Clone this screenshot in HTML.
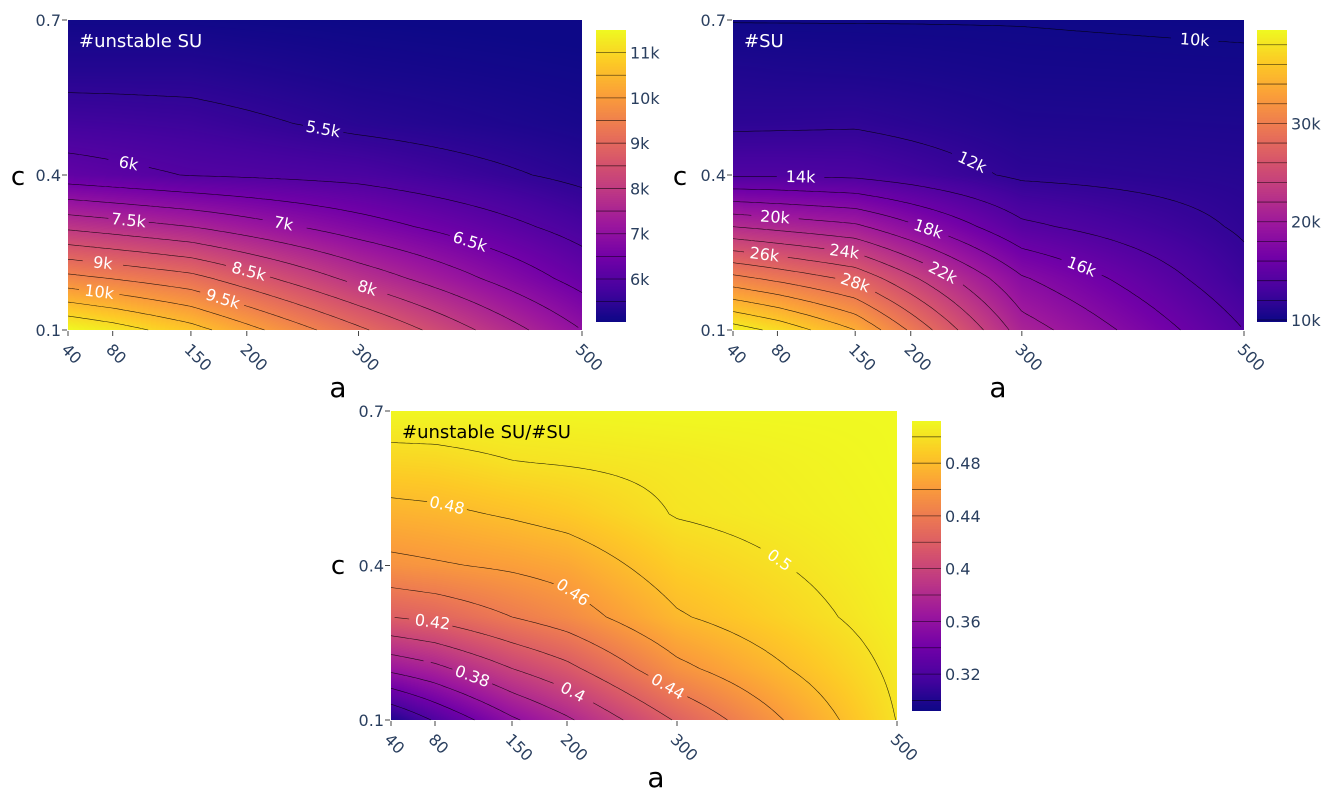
<!DOCTYPE html>
<html><head><meta charset="utf-8"><style>
body{margin:0;background:#fff;width:1338px;height:801px;overflow:hidden;position:relative;font-family:"DejaVu Sans","Liberation Sans",sans-serif}
canvas{position:absolute}
svg{position:absolute;left:0;top:0;font-family:"DejaVu Sans","Liberation Sans",sans-serif}
</style></head><body>
<svg id="ov" width="1338" height="801"></svg>
<script>
// ---- data ----
const A_VALS=[40,80,150,200,300,500];
const C_VALS=[0.1,0.2,0.3,0.4,0.5,0.6,0.7];
const Z_UNSTABLE=[
[11.5,11.25,10.7,10.17,9.1,7.0],
[9.65,9.48,9.17,8.72,7.83,6.31],
[7.89,7.75,7.5,7.24,6.73,5.81],
[6.21,6.12,5.98,5.94,5.85,5.4],
[5.72,5.7,5.65,5.57,5.4,5.2],
[5.35,5.35,5.35,5.3,5.2,5.1],
[5.1,5.1,5.1,5.08,5.05,5.0]];
const Z_SU=[
[39,37.5,34,29.7,21,14],
[30.6,29.5,27.5,24.4,18.2,12.55],
[22,21.4,20.4,18.4,14.4,11.77],
[13.8,13.8,13.6,13.0,11.7,11.27],
[11.66,11.7,11.8,11.5,10.9,10.76],
[10.9,10.8,10.7,10.6,10.35,10.25],
[9.95,9.95,9.95,9.95,9.95,9.8]];
const Z_RATIO=[
[0.30,0.322,0.357,0.377,0.422,0.5005],
[0.365,0.375,0.40,0.415,0.455,0.504],
[0.42,0.425,0.44,0.45,0.478,0.508],
[0.455,0.458,0.463,0.468,0.49,0.51],
[0.474,0.476,0.482,0.487,0.501,0.511],
[0.493,0.494,0.4995,0.501,0.504,0.512],
[0.511,0.511,0.511,0.511,0.512,0.512]];
const X_TICKS=[40,80,150,200,300,500];
const Y_TICKS=[0.1,0.4,0.7];
const CB1_TICKS=[6,7,8,9,10,11];
const CB2_TICKS=[10,20,30];
const CB3_TICKS=[0.32,0.36,0.40,0.44,0.48];

const PLASMA=[[13,8,135],[70,3,159],[114,1,168],[156,23,158],[189,55,134],[216,87,107],[237,121,83],[251,159,58],[253,202,38],[240,249,33]];
function plasma(t){t=Math.max(0,Math.min(1,t));const p=t*9,i=Math.min(8,Math.floor(p)),f=p-i;const a=PLASMA[i],b=PLASMA[i+1];return [a[0]+(b[0]-a[0])*f,a[1]+(b[1]-a[1])*f,a[2]+(b[2]-a[2])*f];}
function idx(arr,v){for(let i=0;i<arr.length-2;i++){if(v<=arr[i+1])return i;}return arr.length-2;}
function interp(Z,a,c){const i=idx(A_VALS,a),j=idx(C_VALS,c);
 const tx=(a-A_VALS[i])/(A_VALS[i+1]-A_VALS[i]),ty=(c-C_VALS[j])/(C_VALS[j+1]-C_VALS[j]);
 return Z[j][i]*(1-tx)*(1-ty)+Z[j][i+1]*tx*(1-ty)+Z[j+1][i]*(1-tx)*ty+Z[j+1][i+1]*tx*ty;}
const NS='http://www.w3.org/2000/svg';
const ov=document.getElementById('ov');
function sv(tag,attrs,parent){const e=document.createElementNS(NS,tag);for(const k in attrs)e.setAttribute(k,attrs[k]);(parent||ov).appendChild(e);return e;}

function makeChart(cfg){
 const {x0,x1,y0,y1,Z,zmin,zmax,levels,labels,fmt,labelFrac,cb,cbTicks,cbFmt,title,titleColor,cx,cy,ax,ay}=cfg;
 const w=x1-x0,h=y1-y0;
 const X=a=>x0+(a-40)/460*w, Y=c=>y1-(c-0.1)/0.6*h;
 const A=px=>40+(px-x0)/w*460, Cc=py=>0.1+(y1-py)/h*0.6;
 const cv=document.createElement('canvas');cv.width=w;cv.height=h;cv.style.left=x0+'px';cv.style.top=y0+'px';
 
 
 document.body.insertBefore(cv,ov);
 const ctx=cv.getContext('2d');const im=ctx.createImageData(w,h);
 for(let py=0;py<h;py++)for(let px=0;px<w;px++){const v=interp(Z,A(x0+px+0.5),Cc(y0+py+0.5));const col=plasma((v-zmin)/(zmax-zmin));const k=(py*w+px)*4;im.data[k]=col[0];im.data[k+1]=col[1];im.data[k+2]=col[2];im.data[k+3]=255;}
 ctx.putImageData(im,0,0);
 const g=sv('g',{});
 
 
 const nx=140,ny=90;const gv=[];
 for(let j=0;j<=ny;j++){gv.push([]);for(let i=0;i<=nx;i++){gv[j].push(interp(Z,A(x0+i*w/nx),Cc(y0+j*h/ny)));}}
 levels.forEach((L,li)=>{
  const segs=[];
  for(let j=0;j<ny;j++)for(let i=0;i<nx;i++){
   const c=[[i,j],[i+1,j],[i+1,j+1],[i,j+1]];const pts=[];
   for(let e=0;e<4;e++){const p=c[e],q=c[(e+1)%4];const vp=gv[p[1]][p[0]],vq=gv[q[1]][q[0]];
    if((vp-L)*(vq-L)<0){const t=(L-vp)/(vq-vp);pts.push([x0+(p[0]+(q[0]-p[0])*t)*w/nx,y0+(p[1]+(q[1]-p[1])*t)*h/ny]);}}
   if(pts.length>=2)segs.push([pts[0],pts[1]]);if(pts.length===4)segs.push([pts[2],pts[3]]);
  }
  let lab=null;
  if(labels.includes(L)&&segs.length){
   const tx=x0+labelFrac[labels.indexOf(L)]*w;let best=null,bd=1e9;
   segs.forEach(s=>{const mx=(s[0][0]+s[1][0])/2,my=(s[0][1]+s[1][1])/2;if(my<y0+10||my>y1-10||mx<x0+22||mx>x1-22)return;const d=Math.abs(mx-tx);if(d<bd){bd=d;best=s;}});
   if(best){let ang=Math.atan2(best[1][1]-best[0][1],best[1][0]-best[0][0])*180/Math.PI;if(ang>90)ang-=180;if(ang<-90)ang+=180;lab={x:(best[0][0]+best[1][0])/2,y:(best[0][1]+best[1][1])/2,ang};}
  }
  let d='';
  segs.forEach(s=>{const mx=(s[0][0]+s[1][0])/2,my=(s[0][1]+s[1][1])/2;if(lab&&Math.hypot(mx-lab.x,my-lab.y)<22)return;d+=`M${s[0][0].toFixed(1)},${s[0][1].toFixed(1)}L${s[1][0].toFixed(1)},${s[1][1].toFixed(1)}`;});
  const p=sv('path',{d,stroke:'#000','stroke-width':0.6,fill:'none','stroke-opacity':0.8},g);
  
  
  if(lab){const t=sv('text',{x:lab.x,y:lab.y,'text-anchor':'middle','dominant-baseline':'central',transform:`rotate(${lab.ang.toFixed(1)} ${lab.x} ${lab.y})`,fill:'#fff','font-size':16},g);t.textContent=fmt(L);
   
   }
 });
 const tt=sv('text',{x:x0+11,y:y0+27,fill:titleColor,'font-size':18});tt.textContent=title;
 
 
 Y_TICKS.forEach(v=>{const yy=Y(v);sv('line',{x1:x0-6,x2:x0-1,y1:yy,y2:yy,stroke:'#444','stroke-width':1});
  const t=sv('text',{x:x0-7,y:yy+6,'text-anchor':'end',fill:'#2a3f5f','font-size':16});t.textContent=String(v);
  
  });
 X_TICKS.forEach(v=>{const xx=X(v);sv('line',{x1:xx,x2:xx,y1:y1+1,y2:y1+6,stroke:'#444','stroke-width':1});
  const t=sv('text',{x:xx-4,y:y1+22,fill:'#2a3f5f','font-size':16,transform:`rotate(45 ${xx-4} ${y1+17})`});t.textContent=String(v);
  
  });
 const yt=sv('text',{x:cx,y:cy,'font-size':26,fill:'#000','text-anchor':'middle'});yt.textContent='c';
 
 
 const xt=sv('text',{x:ax,y:ay,'font-size':28,fill:'#000','text-anchor':'middle'});xt.textContent='a';
 
 
 const cc=document.createElement('canvas');const cw=cb.x1-cb.x0,ch=cb.y1-cb.y0;cc.width=cw;cc.height=ch;cc.style.left=cb.x0+'px';cc.style.top=cb.y0+'px';
 
 
 document.body.insertBefore(cc,ov);
 const c2=cc.getContext('2d');for(let py=0;py<ch;py++){const col=plasma(1-py/ch);c2.fillStyle=`rgb(${col[0]|0},${col[1]|0},${col[2]|0})`;c2.fillRect(0,py,cw,1);}
 const CY=v=>cb.y1-(v-zmin)/(zmax-zmin)*ch;
 levels.forEach(L=>{const yy=CY(L);if(yy>cb.y0&&yy<cb.y1)sv('line',{x1:cb.x0,x2:cb.x1,y1:yy,y2:yy,stroke:'#000','stroke-width':0.8,'stroke-opacity':0.6});});
 cbTicks.forEach(v=>{const t=sv('text',{x:cb.x1+4,y:CY(v)+6,fill:'#2a3f5f','font-size':16});t.textContent=cbFmt(v);
  
  });
}
const rng=(a,b,s)=>{const r=[];for(let v=a;v<=b+1e-9;v+=s)r.push(Math.round(v*1000)/1000);return r;};
makeChart({name:'unstable-su',x0:68,x1:582,y0:20,y1:330,Z:Z_UNSTABLE,zmin:5.05,zmax:11.5,levels:rng(5.5,11,0.5),
 labels:[5.5,6,6.5,7,7.5,8,8.5,9,9.5,10],labelFrac:[0.5,0.12,0.78,0.42,0.12,0.58,0.35,0.07,0.3,0.06],
 fmt:v=>v+'k',cb:{x0:596,x1:626,y0:30,y1:322},cbTicks:CB1_TICKS,cbFmt:v=>v+'k',title:'#unstable SU',titleColor:'#fff',cx:18,cy:185,ax:338,ay:397});
makeChart({name:'su',x0:733,x1:1244,y0:20,y1:330,Z:Z_SU,zmin:9.8,zmax:39.5,levels:rng(10,38,2),
 labels:[10,12,14,16,18,20,22,24,26,28],labelFrac:[0.9,0.47,0.13,0.68,0.38,0.08,0.41,0.22,0.06,0.24],
 fmt:v=>v+'k',cb:{x0:1257,x1:1287,y0:30,y1:322},cbTicks:CB2_TICKS,cbFmt:v=>v+'k',title:'#SU',titleColor:'#fff',cx:680,cy:185,ax:998,ay:397});
makeChart({name:'ratio',x0:391,x1:897,y0:411,y1:720,Z:Z_RATIO,zmin:0.292,zmax:0.512,levels:rng(0.30,0.50,0.02),
 labels:[0.38,0.40,0.42,0.44,0.46,0.48,0.50],labelFrac:[0.16,0.36,0.08,0.55,0.36,0.11,0.77],
 fmt:v=>String(+v.toFixed(2)),cb:{x0:912,x1:941,y0:421,y1:711},cbTicks:CB3_TICKS,cbFmt:v=>String(+v.toFixed(2)),title:'#unstable SU/#SU',titleColor:'#000',cx:338,cy:574,ax:656,ay:787});
</script>
</body></html>
